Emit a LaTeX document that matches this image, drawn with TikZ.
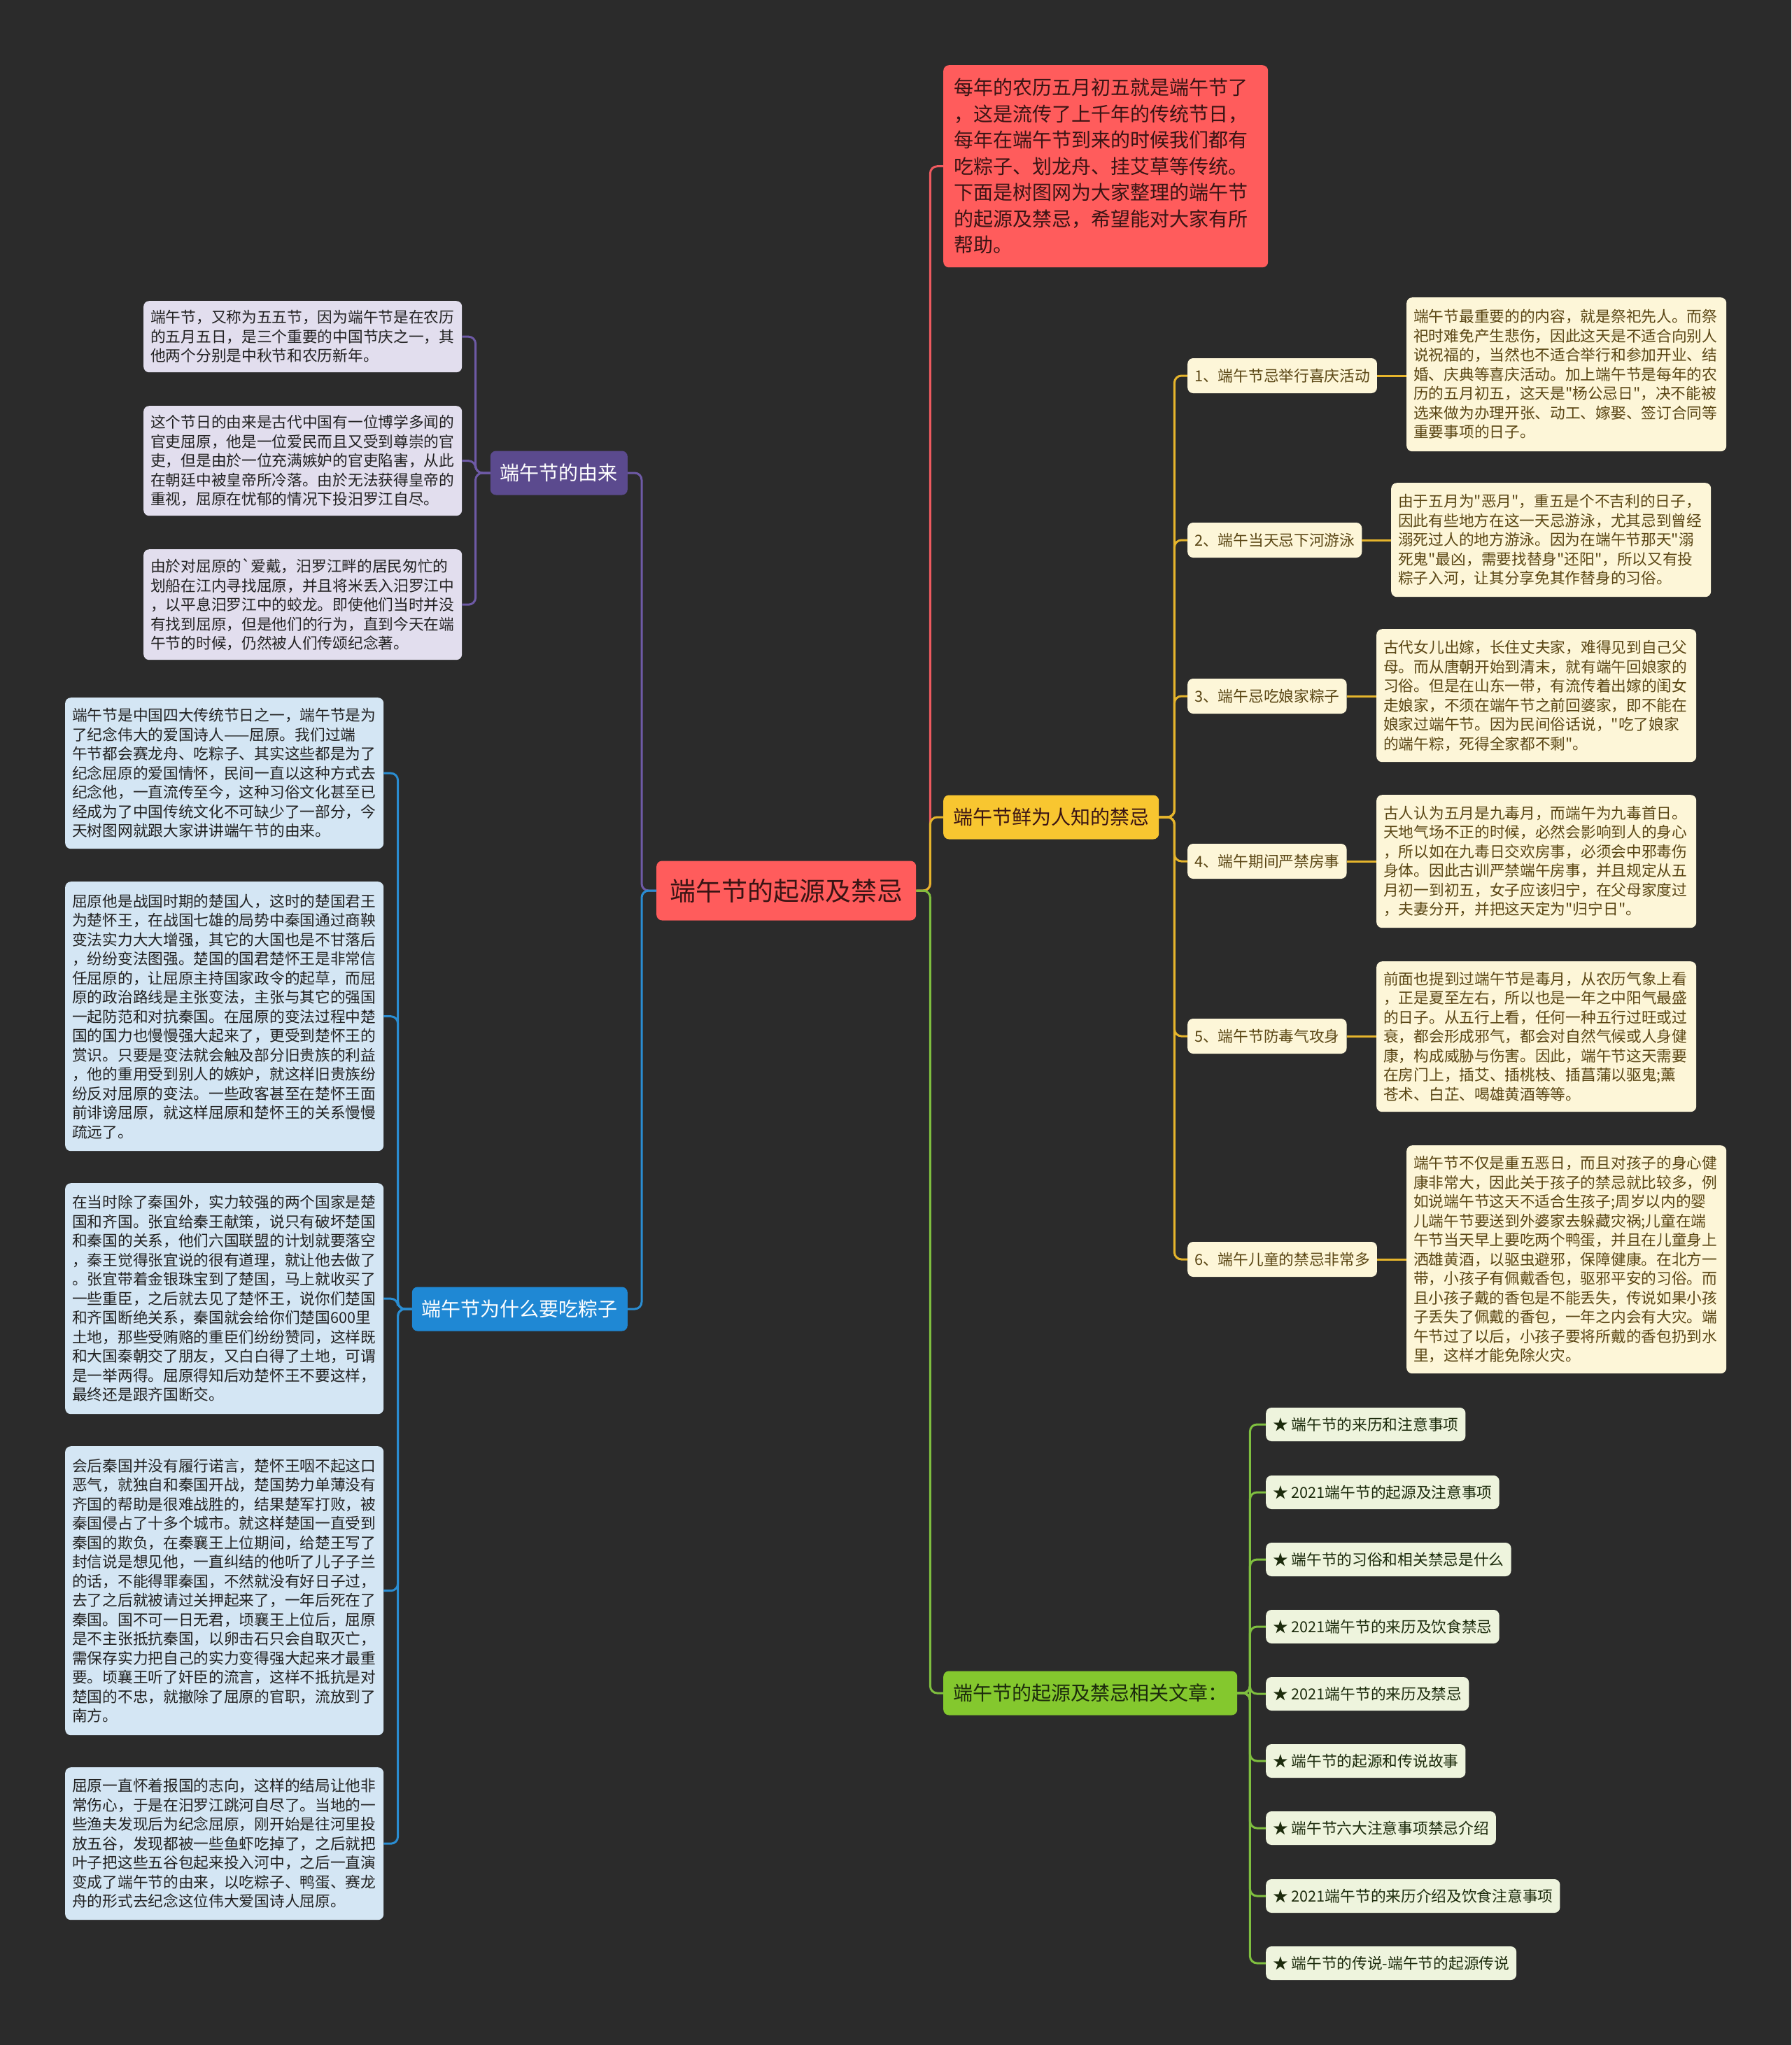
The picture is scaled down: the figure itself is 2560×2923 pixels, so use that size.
\documentclass[tikz,border=0pt]{standalone}
\usepackage{fontspec}
\setmainfont{Noto Sans CJK SC}
\newfontfamily\cjkmain{Noto Sans CJK SC}
\definecolor{bgc}{HTML}{2B2B2B}
\definecolor{redc}{HTML}{FF5C5C}
\definecolor{redl}{HTML}{EE5A5F}
\definecolor{redt}{HTML}{3A1414}
\definecolor{purc}{HTML}{5B4A8E}
\definecolor{purl}{HTML}{6E5AA6}
\definecolor{purleaf}{HTML}{E2DEEE}
\definecolor{bluc}{HTML}{1F88D4}
\definecolor{blul}{HTML}{2A8DD2}
\definecolor{bluleaf}{HTML}{D4E6F4}
\definecolor{yelc}{HTML}{F8C630}
\definecolor{yell}{HTML}{E6B52C}
\definecolor{yelleaf}{HTML}{FDF6D8}
\definecolor{yelt}{HTML}{5A4614}
\definecolor{grnc}{HTML}{84C82E}
\definecolor{grnl}{HTML}{7FBF3F}
\definecolor{grnleaf}{HTML}{EEF4DD}
\definecolor{grnt}{HTML}{1C2B0C}
\definecolor{darkt}{HTML}{222222}
\newcommand\ftxt{\cjkmain\fontsize{21.7pt}{27.5pt}\selectfont}
\newcommand\fbr{\cjkmain\fontsize{28pt}{34pt}\selectfont}
\newcommand\ftopbox{\cjkmain\fontsize{28pt}{37.5pt}\selectfont}
\newcommand\fctr{\cjkmain\fontsize{37pt}{44pt}\selectfont}
\tikzset{
  box/.style={rounded corners=8pt, align=left},
  ctr/.style={box, fill=redc, text=redt, font=\fctr, minimum height=85pt, inner xsep=19pt},
  topbox/.style={box, fill=redc, text=redt, font=\ftopbox, text width=434pt, inner xsep=15pt, minimum height=289pt},
  branch/.style={box, font=\fbr, minimum height=63pt, inner xsep=14pt},
  leafp/.style={box, fill=purleaf, text=darkt, font=\ftxt, text width=435pt, inner xsep=10pt},
  leafb/.style={box, fill=bluleaf, text=darkt, font=\ftxt, text width=435pt, inner xsep=10pt},
  leafy/.style={box, fill=yelleaf, text=yelt, font=\ftxt, text width=437pt, inner xsep=10pt},
  laby/.style={box, fill=yelleaf, text=yelt, font=\ftxt, minimum height=50pt, inner xsep=10pt},
  labg/.style={box, fill=grnleaf, text=grnt, font=\ftxt, minimum height=48pt, inner xsep=10pt},
  conn/.style={line width=3pt, rounded corners=10pt},
}
\begin{document}
\begin{tikzpicture}[x=1pt,y=-1pt]
\fill[bgc] (0,0) rectangle (2560,2923);
\useasboundingbox (0,0) rectangle (2560,2923);

% center
\node[ctr, anchor=west] (C) at (938,1273) {端午节的起源及禁忌};

% top red box
\node[topbox, anchor=north west] (Top) at (1348,93) {每年的农历五月初五就是端午节了\\，这是流传了上千年的传统节日，\\每年在端午节到来的时候我们都有\\吃粽子、划龙舟、挂艾草等传统。\\下面是树图网为大家整理的端午节\\的起源及禁忌，希望能对大家有所\\帮助。};

% branch nodes
\node[branch, fill=purc, text=white, anchor=east] (PN) at (897,676) {端午节的由来};
\node[branch, fill=bluc, text=white, anchor=east] (BN) at (897,1871) {端午节为什么要吃粽子};
\node[branch, fill=yelc, text=redt, anchor=west] (YN) at (1348,1168) {端午节鲜为人知的禁忌};
\node[branch, fill=grnc, text=grnt, anchor=west] (GN) at (1348,2420) {端午节的起源及禁忌相关文章：};

% purple leaves
\node[leafp, anchor=north west, minimum height=102pt] (P1) at (205,430) {端午节，又称为五五节，因为端午节是在农历\\的五月五日，是三个重要的中国节庆之一，其\\他两个分别是中秋节和农历新年。};
\node[leafp, anchor=north west, minimum height=157pt] (P2) at (205,580) {这个节日的由来是古代中国有一位博学多闻的\\官吏屈原，他是一位爱民而且又受到尊崇的官\\吏，但是由於一位充满嫉妒的官吏陷害，从此\\在朝廷中被皇帝所冷落。由於无法获得皇帝的\\重视，屈原在忧郁的情况下投汨罗江自尽。};
\node[leafp, anchor=north west, minimum height=158pt] (P3) at (205,785) {由於对屈原的`爱戴，汨罗江畔的居民匆忙的\\划船在江内寻找屈原，并且将米丢入汨罗江中\\，以平息汨罗江中的蛟龙。即使他们当时并没\\有找到屈原，但是他们的行为，直到今天在端\\午节的时候，仍然被人们传颂纪念著。};

% blue leaves
\node[leafb, anchor=north west, minimum height=216pt] (B1) at (93,997) {端午节是中国四大传统节日之一，端午节是为\\了纪念伟大的爱国诗人——屈原。我们过端\\午节都会赛龙舟、吃粽子、其实这些都是为了\\纪念屈原的爱国情怀，民间一直以这种方式去\\纪念他，一直流传至今，这种习俗文化甚至已\\经成为了中国传统文化不可缺少了一部分，今\\天树图网就跟大家讲讲端午节的由来。};
\node[leafb, anchor=north west, minimum height=385pt] (B2) at (93,1260) {屈原他是战国时期的楚国人，这时的楚国君王\\为楚怀王，在战国七雄的局势中秦国通过商鞅\\变法实力大大增强，其它的大国也是不甘落后\\，纷纷变法图强。楚国的国君楚怀王是非常信\\任屈原的，让屈原主持国家政令的起草，而屈\\原的政治路线是主张变法，主张与其它的强国\\一起防范和对抗秦国。在屈原的变法过程中楚\\国的国力也慢慢强大起来了，更受到楚怀王的\\赏识。只要是变法就会触及部分旧贵族的利益\\，他的重用受到别人的嫉妒，就这样旧贵族纷\\纷反对屈原的变法。一些政客甚至在楚怀王面\\前诽谤屈原，就这样屈原和楚怀王的关系慢慢\\疏远了。};
\node[leafb, anchor=north west, minimum height=330pt] (B3) at (93,1691) {在当时除了秦国外，实力较强的两个国家是楚\\国和齐国。张宜给秦王献策，说只有破坏楚国\\和秦国的关系，他们六国联盟的计划就要落空\\，秦王觉得张宜说的很有道理，就让他去做了\\。张宜带着金银珠宝到了楚国，马上就收买了\\一些重臣，之后就去见了楚怀王，说你们楚国\\和齐国断绝关系，秦国就会给你们楚国600里\\土地，那些受贿赂的重臣们纷纷赞同，这样既\\和大国秦朝交了朋友，又白白得了土地，可谓\\是一举两得。屈原得知后劝楚怀王不要这样，\\最终还是跟齐国断交。};
\node[leafb, anchor=north west, minimum height=413pt] (B4) at (93,2067) {会后秦国并没有履行诺言，楚怀王咽不起这口\\恶气，就独自和秦国开战，楚国势力单薄没有\\齐国的帮助是很难战胜的，结果楚军打败，被\\秦国侵占了十多个城市。就这样楚国一直受到\\秦国的欺负，在秦襄王上位期间，给楚王写了\\封信说是想见他，一直纠结的他听了儿子子兰\\的话，不能得罪秦国，不然就没有好日子过，\\去了之后就被请过关押起来了，一年后死在了\\秦国。国不可一日无君，顷襄王上位后，屈原\\是不主张抵抗秦国，以卵击石只会自取灭亡，\\需保存实力把自己的实力变得强大起来才最重\\要。顷襄王听了奸臣的流言，这样不抵抗是对\\楚国的不忠，就撤除了屈原的官职，流放到了\\南方。};
\node[leafb, anchor=north west, minimum height=218pt] (B5) at (93,2526) {屈原一直怀着报国的志向，这样的结局让他非\\常伤心，于是在汨罗江跳河自尽了。当地的一\\些渔夫发现后为纪念屈原，刚开始是往河里投\\放五谷，发现都被一些鱼虾吃掉了，之后就把\\叶子把这些五谷包起来投入河中，之后一直演\\变成了端午节的由来，以吃粽子、鸭蛋、赛龙\\舟的形式去纪念这位伟大爱国诗人屈原。};

% yellow text boxes
\node[leafy, anchor=north west, minimum height=220pt] (T1) at (2010,425) {端午节最重要的的内容，就是祭祀先人。而祭\\祀时难免产生悲伤，因此这天是不适合向别人\\说祝福的，当然也不适合举行和参加开业、结\\婚、庆典等喜庆活动。加上端午节是每年的农\\历的五月初五，这天是"杨公忌日"，决不能被\\选来做为办理开张、动工、嫁娶、签订合同等\\重要事项的日子。};
\node[leafy, anchor=north west, minimum height=163pt] (T2) at (1988,690) {由于五月为"恶月"，重五是个不吉利的日子，\\因此有些地方在这一天忌游泳，尤其忌到曾经\\溺死过人的地方游泳。因为在端午节那天"溺\\死鬼"最凶，需要找替身"还阳"，所以又有投\\粽子入河，让其分享免其作替身的习俗。};
\node[leafy, anchor=north west, minimum height=190pt] (T3) at (1967,899) {古代女儿出嫁，长住丈夫家，难得见到自己父\\母。而从唐朝开始到清末，就有端午回娘家的\\习俗。但是在山东一带，有流传着出嫁的闺女\\走娘家，不须在端午节之前回婆家，即不能在\\娘家过端午节。因为民间俗话说，"吃了娘家\\的端午粽，死得全家都不剩"。};
\node[leafy, anchor=north west, minimum height=190pt] (T4) at (1967,1136) {古人认为五月是九毒月，而端午为九毒首日。\\天地气场不正的时候，必然会影响到人的身心\\，所以如在九毒日交欢房事，必须会中邪毒伤\\身体。因此古训严禁端午房事，并且规定从五\\月初一到初五，女子应该归宁，在父母家度过\\，夫妻分开，并把这天定为"归宁日"。};
\node[leafy, anchor=north west, minimum height=215pt] (T5) at (1967,1374) {前面也提到过端午节是毒月，从农历气象上看\\，正是夏至左右，所以也是一年之中阳气最盛\\的日子。从五行上看，任何一种五行过旺或过\\衰，都会形成邪气，都会对自然气候或人身健\\康，构成威胁与伤害。因此，端午节这天需要\\在房门上，插艾、插桃枝、插菖蒲以驱鬼;薰\\苍术、白芷、喝雄黄酒等等。};
\node[leafy, anchor=north west, minimum height=326pt] (T6) at (2010,1637) {端午节不仅是重五恶日，而且对孩子的身心健\\康非常大，因此关于孩子的禁忌就比较多，例\\如说端午节这天不适合生孩子;周岁以内的婴\\儿端午节要送到外婆家去躲藏灾祸;儿童在端\\午节当天早上要吃两个鸭蛋，并且在儿童身上\\洒雄黄酒，以驱虫避邪，保障健康。在北方一\\带，小孩子有佩戴香包，驱邪平安的习俗。而\\且小孩子戴的香包是不能丢失，传说如果小孩\\子丢失了佩戴的香包，一年之内会有大灾。端\\午节过了以后，小孩子要将所戴的香包扔到水\\里，这样才能免除火灾。};

% yellow labels
\node[laby, anchor=west] (L1) at (1697,537) {1、端午节忌举行喜庆活动};
\node[laby, anchor=west] (L2) at (1697,772) {2、端午当天忌下河游泳};
\node[laby, anchor=west] (L3) at (1697,995) {3、端午忌吃娘家粽子};
\node[laby, anchor=west] (L4) at (1697,1231) {4、端午期间严禁房事};
\node[laby, anchor=west] (L5) at (1697,1481) {5、端午节防毒气攻身};
\node[laby, anchor=west] (L6) at (1697,1800) {6、端午儿童的禁忌非常多};

% green items
\node[labg, anchor=west] (G1) at (1809,2036) {★ 端午节的来历和注意事项};
\node[labg, anchor=west] (G2) at (1809,2133) {★ 2021端午节的起源及注意事项};
\node[labg, anchor=west] (G3) at (1809,2229) {★ 端午节的习俗和相关禁忌是什么};
\node[labg, anchor=west] (G4) at (1809,2325) {★ 2021端午节的来历及饮食禁忌};
\node[labg, anchor=west] (G5) at (1809,2421) {★ 2021端午节的来历及禁忌};
\node[labg, anchor=west] (G6) at (1809,2517) {★ 端午节的起源和传说故事};
\node[labg, anchor=west] (G7) at (1809,2613) {★ 端午节六大注意事项禁忌介绍};
\node[labg, anchor=west] (G8) at (1809,2710) {★ 2021端午节的来历介绍及饮食注意事项};
\node[labg, anchor=west] (G9) at (1809,2806) {★ 端午节的传说-端午节的起源传说};

% connectors from center
\draw[conn, redl] (C.east) -- ++(20,0) |- (Top.west);
\draw[conn, yell] (C.east) -- ++(20,0) |- (YN.west);
\draw[conn, grnl] (C.east) -- ++(20,0) |- (GN.west);
\draw[conn, purl] (C.west) -- ++(-21,0) |- (PN.east);
\draw[conn, blul] (C.west) -- ++(-21,0) |- (BN.east);

% purple
\foreach \n in {P1,P2,P3}
  \draw[conn, purl] (PN.west) -- ++(-21,0) |- (\n.east);
% blue
\foreach \n in {B1,B2,B3,B4,B5}
  \draw[conn, blul] (BN.west) -- ++(-20,0) |- (\n.east);
% yellow
\foreach \n in {L1,L2,L3,L4,L5,L6}
  \draw[conn, yell] (YN.east) -- ++(22,0) |- (\n.west);
\foreach \a/\b in {L1/T1,L2/T2,L3/T3,L4/T4,L5/T5,L6/T6}
  \draw[line width=3pt, yell] (\a.east) -- (\a.east -| \b.west);
% green
\foreach \n in {G1,G2,G3,G4,G5,G6,G7,G8,G9}
  \draw[conn, grnl] (GN.east) -- ++(18,0) |- (\n.west);
\end{tikzpicture}
\end{document}
